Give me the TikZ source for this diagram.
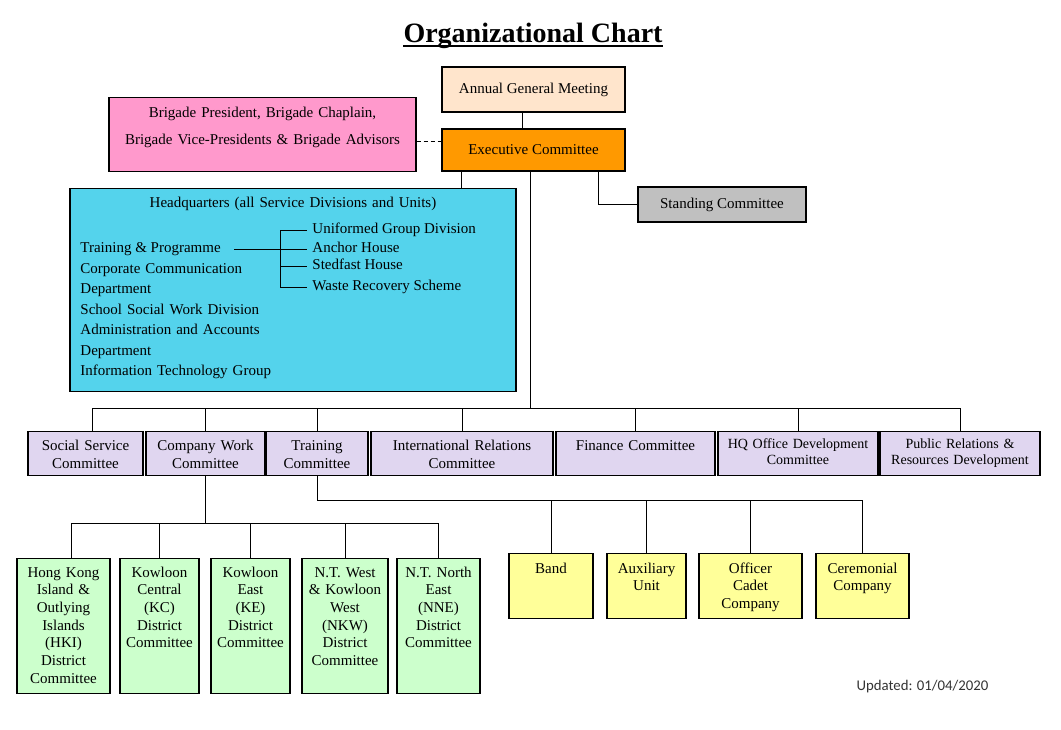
\documentclass[tikz,border=0pt]{standalone}
\usepackage{fontspec}
\setmainfont{Liberation Serif}
\newfontfamily\updfont{Carlito}

\definecolor{agmfill}{RGB}{255,229,204}
\definecolor{execfill}{RGB}{255,153,0}
\definecolor{pinkfill}{RGB}{255,153,204}
\definecolor{hqfill}{RGB}{84,211,236}
\definecolor{greyfill}{RGB}{192,192,192}
\definecolor{comfill}{RGB}{224,214,240}
\definecolor{distfill}{RGB}{204,255,204}
\definecolor{unitfill}{RGB}{255,255,153}

\tikzset{
  orgbox/.style={draw, line width=1.1pt, inner sep=0pt, align=center, font=\fontsize{15}{18}\selectfont},
  combox/.style={orgbox, anchor=north, fill=comfill, text height=18.5pt, text depth=25.5pt},
  distbox/.style={orgbox, anchor=north, fill=distfill, text height=18.5pt, text depth=116.5pt, font=\fontsize{15}{17.7}\selectfont},
  unitbox/.style={orgbox, anchor=north, fill=unitfill, text height=19.5pt, text depth=45.5pt, font=\fontsize{15}{17.7}\selectfont},
  hqitem/.style={anchor=west, inner sep=0pt, text height=10pt, text depth=3pt, font=\fontsize{15}{18}\selectfont},
}

\begin{document}
\begin{tikzpicture}[x=1pt,y=-1pt,line width=0.9pt]
\useasboundingbox[fill=white] (0,0) rectangle (1061,730);

\node[inner sep=0pt, anchor=base, font=\bfseries\fontsize{28}{32}\selectfont] (title) at (533,43) {Organizational Chart};
\draw[line width=2.5pt] ([yshift=-3pt]title.base west) -- ([yshift=-3pt]title.base east);

\node[orgbox, fill=agmfill, minimum width=183pt, minimum height=45pt] (agm) at (533.5,89.5) {Annual General Meeting};
\node[orgbox, fill=execfill, minimum width=183pt, minimum height=42pt] (exec) at (533.5,150) {Executive Committee};
\node[orgbox, anchor=north, fill=pinkfill, text width=307pt, text height=19.5pt, text depth=54.5pt, font=\fontsize{15}{27}\selectfont] (brig) at (262.5,97) {Brigade President, Brigade Chaplain,\\Brigade Vice-Presidents \& Brigade Advisors};
\node[orgbox, fill=greyfill, minimum width=168pt, minimum height=35pt] (standing) at (722,204.5) {Standing Committee};

\node[orgbox, anchor=north, fill=hqfill, text width=446pt, text height=18.5pt, text depth=184.5pt] (hq) at (293,188) {Headquarters (all Service Divisions and Units)};
\node[hqitem] (tp) at (80,249) {Training \& Programme};
\node[anchor=north west, inner sep=0pt, text width=200pt, align=left, text height=10pt, font=\fontsize{15}{20.4}\selectfont] (hqlist) at (80,263) {Corporate Communication\\Department\\School Social Work Division\\Administration and Accounts\\Department\\Information Technology Group};
\node[hqitem] (ugd) at (312,230.3) {Uniformed Group Division};
\node[hqitem] (anchorh) at (312,249) {Anchor House};
\node[hqitem] (stedfast) at (312,266) {Stedfast House};
\node[hqitem] (waste) at (312,287) {Waste Recovery Scheme};

\node[combox, text width=115pt] (social) at (85.5,431) {Social Service\\Committee};
\node[combox, text width=119pt] (company) at (205.5,431) {Company Work\\Committee};
\node[combox, text width=102pt] (training) at (317,431) {Training\\Committee};
\node[combox, text width=182pt] (intl) at (462,431) {International Relations\\Committee};
\node[combox, text width=159pt] (finance) at (635.5,431) {Finance Committee};
\node[combox, text width=160pt, text height=17pt, text depth=27pt, font=\fontsize{14}{16}\selectfont] (hqdev) at (798,431) {HQ Office Development\\Committee};
\node[combox, text width=160pt, text height=17pt, text depth=27pt, font=\fontsize{14}{16}\selectfont] (pr) at (960,431) {Public Relations \&\\Resources Development};

\node[distbox, text width=93pt] (hki) at (63.5,558) {Hong Kong\\Island \&\\Outlying\\Islands\\(HKI)\\District\\Committee};
\node[distbox, text width=79pt] (kc) at (159.5,558) {Kowloon\\Central\\(KC)\\District\\Committee};
\node[distbox, text width=79pt] (ke) at (250.5,558) {Kowloon\\East\\(KE)\\District\\Committee};
\node[distbox, text width=86pt] (nkw) at (345,558) {N.T. West\\\& Kowloon\\West\\(NKW)\\District\\Committee};
\node[distbox, text width=83pt] (nne) at (438.5,558) {N.T. North\\East\\(NNE)\\District\\Committee};

\node[unitbox, text width=84pt] (band) at (551,553) {Band};
\node[unitbox, text width=79pt] (aux) at (646.5,553) {Auxiliary\\Unit};
\node[unitbox, text width=103pt] (officer) at (750.5,553) {Officer\\Cadet\\Company};
\node[unitbox, text width=93pt] (cer) at (862.5,553) {Ceremonial\\Company};

\node[font=\updfont\fontsize{14.8}{17}\selectfont, text=black!80] (upd) at (922.5,687) {Updated: 01/04/2020};

\draw (agm.south -| 522,0) -- (exec.north -| 522,0);
\draw[dash pattern=on 4pt off 3pt] (brig.east |- 0,141) -- (exec.west |- 0,141);
\draw (exec.south -| 461,0) -- (hq.north -| 461,0);
\draw (exec.south -| 598,0) |- (standing.west);

\draw[shorten <=13pt, shorten >=5pt] (tp.east) -- (anchorh.west);
\coordinate (brk) at (280,0);
\draw (ugd.west -| brk) -- (waste.west -| brk);
\foreach \n in {ugd,stedfast,waste} \draw[shorten >=5pt] (\n.west -| brk) -- (\n.west);

\coordinate (bus) at (530,408);
\draw (exec.south -| bus) -- (bus);
\draw (social.north -| 92,0) |- (pr.north |- bus) -- (pr.north);
\foreach \n in {company,training,intl,finance,hqdev} \draw (\n.north |- bus) -- (\n.north);

\coordinate (dbus) at (company.south |- 0,523);
\draw (company.south) -- (dbus);
\draw (hki.north -| 71,0) |- (nne.north |- dbus) -- (nne.north);
\foreach \n in {kc,ke,nkw} \draw (\n.north |- dbus) -- (\n.north);

\coordinate (ubus) at (training.south |- 0,500);
\draw (training.south) -- (ubus) -- (cer.north |- ubus) -- (cer.north);
\foreach \n in {band,aux,officer} \draw (\n.north |- ubus) -- (\n.north);
\end{tikzpicture}
\end{document}
